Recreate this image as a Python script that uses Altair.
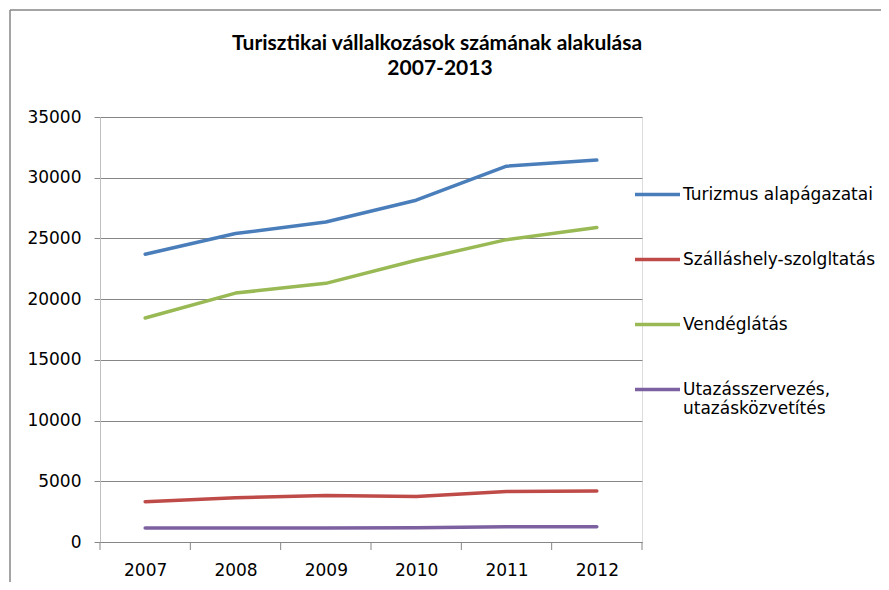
import altair as alt
import pandas as pd

years = [2007, 2008, 2009, 2010, 2011, 2012]
series_names = [
    "Turizmus alapágazatai",
    "Szálláshely-szolgltatás",
    "Vendéglátás",
    "Utazásszervezés, utazásközvetítés",
]
turizmus = [23700, 25400, 26350, 28150, 30950, 31450]
szallashely = [3320, 3650, 3820, 3740, 4150, 4200]
vendeglatas = [18450, 20500, 21300, 23200, 24900, 25900]
utazas = [1150, 1150, 1160, 1180, 1250, 1260]
colors = ["#4A7EBB", "#BE4B48", "#98B954", "#7D60A0"]
y_ticks = [0, 5000, 10000, 15000, 20000, 25000, 30000, 35000]
x_tick_bounds = [2006.5, 2007.5, 2008.5, 2009.5, 2010.5, 2011.5, 2012.5]
title_line1 = "Turisztikai vállalkozások számának alakulása"
title_line2 = "2007-2013"

rows = []
for name, vals in zip(series_names, [turizmus, szallashely, vendeglatas, utazas]):
    for yr, v in zip(years, vals):
        rows.append({"year": yr, "series": name, "value": v})
df = pd.DataFrame(rows)

W, H = 542, 425
x_scale = alt.Scale(domain=[2006.5, 2012.5], nice=False, zero=False)
y_scale = alt.Scale(domain=[0, 35000], nice=False)

lines = alt.Chart(df).mark_line(
    strokeWidth=3.5, interpolate="linear", strokeCap="round", strokeJoin="round"
).encode(
    x=alt.X("year:Q", scale=x_scale, axis=alt.Axis(
        values=years, format="d", ticks=False, grid=False,
        domainColor="#868686", labelFont="DejaVu Sans", labelFontSize=17,
        labelColor="#000000", labelPadding=20, title=None)),
    y=alt.Y("value:Q", scale=y_scale, axis=alt.Axis(
        values=y_ticks, format="d", grid=True, gridColor="#868686",
        tickSize=6, tickColor="#868686", domainColor="#BFBFBF",
        labelFont="DejaVu Sans", labelFontSize=17, labelColor="#000000",
        labelPadding=13, title=None)),
    color=alt.Color("series:N", scale=alt.Scale(domain=series_names, range=colors),
        legend=alt.Legend(
            title=None, orient="none", legendX=533, legendY=53,
            symbolType="stroke", symbolSize=2025, symbolStrokeWidth=3.5,
            labelFont="DejaVu Sans", labelFontSize=17, labelColor="#000000",
            labelLimit=400, rowPadding=32, labelOffset=1,
            labelExpr="datum.label == 'Utazásszervezés, utazásközvetítés' ? ['Utazásszervezés,', 'utazásközvetítés'] : datum.label",
        )),
)

ticks_df = pd.DataFrame({"b": x_tick_bounds})
xticks = alt.Chart(ticks_df).mark_rule(color="#868686", strokeWidth=1).encode(
    x=alt.X("b:Q", scale=x_scale),
    y=alt.value(H),
    y2=alt.value(H + 8),
)

title_font = dict(font="Lato", fontSize=21, fontWeight="bold",
                  color="#000000", align="center", baseline="middle")
one_row = pd.DataFrame({"k": [0]})
title1 = alt.Chart(one_row).mark_text(text=title_line1, **title_font).encode(
    x=alt.value(337), y=alt.value(-73))
title2 = alt.Chart(one_row).mark_text(text=title_line2, **title_font).encode(
    x=alt.value(340), y=alt.value(-48))

left_border = alt.Chart(one_row).mark_rule(color="#868686", strokeWidth=1.5).encode(
    x=alt.value(-90), y=alt.value(-107), y2=alt.value(H + 60)
)
top_border = alt.Chart(one_row).mark_rule(color="#868686", strokeWidth=1.5).encode(
    x=alt.value(-90), x2=alt.value(W + 260), y=alt.value(-107)
)

chart = alt.layer(xticks, lines, title1, title2, left_border, top_border).properties(
    width=W, height=H,
    autosize=alt.AutoSizeParams(type="none"),
    padding={"left": 92, "top": 109, "right": 239, "bottom": 40},
).configure_view(strokeWidth=0).configure(background="white")

chart.save("out.html", embed_options={"renderer": "svg", "actions": False})
